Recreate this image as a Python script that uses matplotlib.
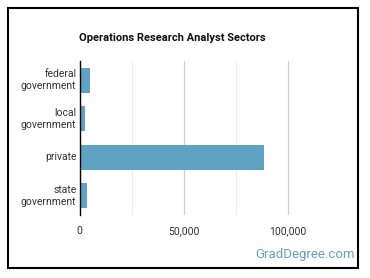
import numpy as np
import matplotlib.pyplot as plt
import matplotlib.transforms as mtransforms
from matplotlib.patches import Rectangle

plt.rcParams['font.family'] = ['Roboto', 'DejaVu Sans']

sectors = ["federal\ngovernment", "local\ngovernment", "private", "state\ngovernment"]
counts = [5000, 2800, 88300, 3700]
ticks = [0, 50000, 100000]
tick_labels = ["0", "50,000", "100,000"]

fig = plt.figure(figsize=(3.7, 2.78), dpi=100)
ax = fig.add_axes([0.215, 0.227, 0.704, 0.554])

y = np.arange(len(sectors))
ax.barh(y, counts, height=0.65, color='#5ea3c3', zorder=3)
ax.set_ylim(len(sectors) - 0.5, -0.5)
ax.set_xlim(0, 125000)

ax.set_xticks(ticks)
ax.set_xticklabels(tick_labels)
ax.set_xticks([25000, 75000], minor=True)
ax.grid(axis='x', which='major', color='#d0d0d0', linewidth=0.9, zorder=0)
ax.grid(axis='x', which='minor', color='#eeeeee', linewidth=0.9, zorder=0)
ax.set_yticks(y)
ax.set_yticklabels([])
ax.tick_params(axis='x', which='both', length=0, labelsize=7.5, labelcolor='#333333', pad=8)
ax.tick_params(axis='y', length=0)

# category labels, right-aligned line by line
trans = mtransforms.blended_transform_factory(ax.transAxes, ax.transData)
for yi, name in zip(y, sectors):
    ax.text(-0.012, yi, name, transform=trans, ha='right', va='center',
            multialignment='right', fontsize=7.5, color='#333333', linespacing=1.25)

for s in ['top', 'right', 'bottom']:
    ax.spines[s].set_visible(False)
ax.spines['left'].set_color('black')
ax.spines['left'].set_linewidth(1)
ax.spines['left'].set_zorder(4)

fig.text(0.466, 0.862, "Operations Research Analyst Sectors", ha='center', va='center',
         fontsize=8, fontweight='bold', color='#111111')
fig.text(0.958, 0.083, "GradDegree.com", ha='right', va='center',
         fontsize=9.5, color='#6a9fc0')

fig.patches.append(Rectangle((8 / 370, 1 - 268 / 278), 350 / 370, 260 / 278,
                             transform=fig.transFigure, fill=False,
                             edgecolor='black', linewidth=1.5))

fig.savefig('out.png', dpi=100)
